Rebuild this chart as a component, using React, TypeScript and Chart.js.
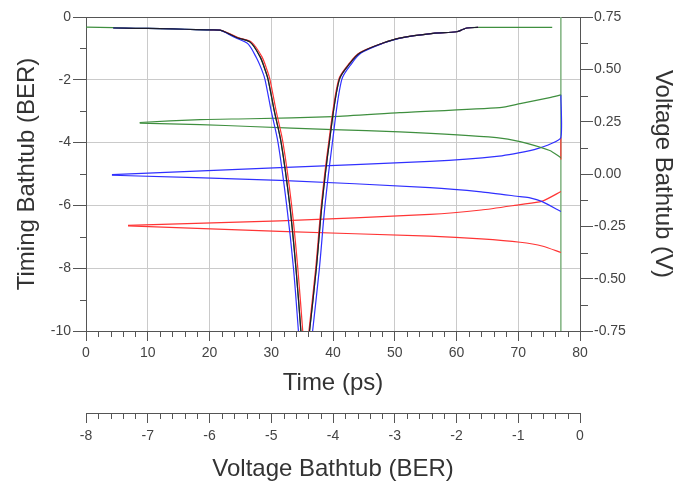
import React, { useEffect, useRef } from 'react';
import { Chart, registerables } from 'chart.js';

Chart.register(...registerables);

// ---------- Timing bathtub (time in ps, log10 BER) ----------
const blackLeftT = [4.4, 8, 12, 16, 19.6, 21.7, 23.0, 24.5, 26.6, 28.2, 29.0, 29.5, 30.5, 31.6, 33.0, 34.0, 34.8];
const blackLeftB = [-0.35, -0.36, -0.37, -0.39, -0.41, -0.42, -0.52, -0.66, -0.8, -1.27, -1.68, -2.0, -3.0, -4.0, -6.0, -8.0, -10];
const blackRightT = [36.2, 37.3, 38.2, 39.4, 41.0, 42.8, 44.4, 48.1, 50.8, 56.2, 60.0, 61.0, 61.7, 63.5];
const blackRightB = [-10, -8, -6, -4, -2.0, -1.46, -1.14, -0.83, -0.67, -0.52, -0.47, -0.4, -0.35, -0.33];

const redLeftT = [20.0, 21.7, 23.1, 24.7, 26.8, 28.5, 29.3, 29.8, 30.8, 31.9, 33.3, 34.3, 35.1];
const redLeftB = [-0.41, -0.42, -0.52, -0.66, -0.8, -1.27, -1.68, -2.0, -3.0, -4.0, -6.0, -8.0, -10];
const redRightT = [36.1, 37.2, 38.1, 39.3, 40.9, 42.7, 44.3, 48.1, 50.8, 56.2, 60.0, 61.0, 61.7, 63.5];
const redRightB = [-10, -8, -6, -4, -2.0, -1.46, -1.14, -0.83, -0.67, -0.52, -0.47, -0.4, -0.35, -0.33];

const blueLeftT = [4.4, 8, 12, 16, 19.6, 21.7, 22.8, 24.2, 26.2, 27.6, 28.5, 29.0, 30.0, 31.1, 32.5, 33.6, 34.4];
const blueLeftB = [-0.35, -0.36, -0.37, -0.39, -0.41, -0.42, -0.52, -0.66, -0.85, -1.3, -1.7, -2.0, -3.0, -4.0, -6.0, -8.0, -10];
const blueRightT = [36.7, 37.8, 38.7, 39.9, 41.4, 43.1, 44.6, 48.2, 50.9, 56.2, 60.0, 61.0, 61.7, 63.5];
const blueRightB = [-10, -8, -6, -4, -2.0, -1.46, -1.14, -0.83, -0.67, -0.52, -0.47, -0.4, -0.35, -0.33];

const greenLeftT = [0, 4.4, 8, 12, 16, 19.6, 21.7, 23.0, 24.5, 26.6, 28.2, 29.0, 29.5, 30.5, 31.6, 33.0, 34.0, 34.8];
const greenLeftB = [-0.32, -0.34, -0.36, -0.37, -0.39, -0.41, -0.42, -0.52, -0.66, -0.8, -1.27, -1.68, -2.0, -3.0, -4.0, -6.0, -8.0, -10];
const greenRightT = [36.2, 37.3, 38.2, 39.4, 41.0, 42.8, 44.4, 48.1, 50.8, 56.2, 60.0, 61.0, 61.7, 63.5, 75.5];
const greenRightB = [-10, -8, -6, -4, -2.0, -1.46, -1.14, -0.83, -0.67, -0.52, -0.47, -0.4, -0.35, -0.33, -0.33];

const markerT = [76.9, 76.9];
const markerB = [0, -10];

// ---------- Voltage bathtub (log10 BER, volts) ----------
const greenUpperBer = [-7.13, -6.15, -5.34, -4.0, -2.92, -1.3, -0.97, -0.49, -0.31];
const greenUpperV = [0.246, 0.26, 0.264, 0.274, 0.293, 0.317, 0.336, 0.365, 0.378];
const greenLowerBer = [-7.13, -6.15, -5.34, -4.0, -2.92, -1.35, -0.97, -0.49, -0.31];
const greenLowerV = [0.243, 0.236, 0.227, 0.212, 0.201, 0.174, 0.155, 0.112, 0.078];

const blueUpperBer = [-7.58, -4.86, -2.43, -1.35, -0.81, -0.65, -0.49, -0.31, -0.31];
const blueUpperV = [-0.003, 0.03, 0.06, 0.084, 0.112, 0.125, 0.142, 0.174, 0.378];
const blueLowerBer = [-7.58, -4.86, -2.43, -1.6, -0.97, -0.81, -0.62, -0.31];
const blueLowerV = [-0.006, -0.03, -0.065, -0.085, -0.108, -0.114, -0.131, -0.179];

const redUpperBer = [-7.32, -4.86, -2.43, -1.6, -0.97, -0.62, -0.31];
const redUpperV = [-0.245, -0.224, -0.193, -0.172, -0.146, -0.131, -0.084];
const redLowerBer = [-7.32, -4.86, -2.43, -1.6, -0.97, -0.6, -0.31];
const redLowerV = [-0.248, -0.274, -0.297, -0.31, -0.326, -0.345, -0.375];
const redTailBer = [-0.31, -0.31];
const redTailV = [0.174, 0.069];

// ---------- Axis labels ----------
const timeAxisTitle = 'Time (ps)';
const timingAxisTitle = 'Timing Bathtub (BER)';
const voltAxisTitle = 'Voltage Bathtub (V)';
const voltBerAxisTitle = 'Voltage Bathtub (BER)';

const GREEN = '#3f8f3f';
const BLUE = '#3030ff';
const RED = '#ff3535';
const BLACK = '#1c1c2c';
const AXIS = '#555555';
const GRID = '#cacaca';
const FONT = "'Liberation Sans', Arial, sans-serif";

function pts(xs: number[], ys: number[]) {
  return xs.map((x, i) => ({ x, y: ys[i] }));
}

function timing(xs: number[], ys: number[], color: string, width = 1.2) {
  return {
    data: pts(xs, ys),
    xAxisID: 'x',
    yAxisID: 'y',
    borderColor: color,
    borderWidth: width,
    showLine: true,
    pointRadius: 0,
    fill: false,
    tension: 0.3,
  };
}

function volt(xs: number[], ys: number[], color: string) {
  return {
    data: pts(xs, ys),
    xAxisID: 'xv',
    yAxisID: 'yv',
    borderColor: color,
    borderWidth: 1.2,
    showLine: true,
    pointRadius: 0,
    fill: false,
    tension: 0.2,
  };
}

const minorTicks = {
  id: 'minorTicks',
  afterDraw(chart: any) {
    const { ctx } = chart;
    const { x, y, yv, xv } = chart.scales;
    const a = (p: number) => Math.round(p) + 0.5;
    ctx.save();
    ctx.strokeStyle = AXIS;
    ctx.lineWidth = 1;
    ctx.beginPath();
    for (let v = y.min + 1; v < y.max; v += 2) {
      const p = a(y.getPixelForValue(v));
      ctx.moveTo(y.right - 6, p);
      ctx.lineTo(y.right, p);
    }
    for (let v = x.min + 2; v < x.max; v += 2) {
      if (v % 10 === 0) continue;
      const p = a(x.getPixelForValue(v));
      ctx.moveTo(p, x.top);
      ctx.lineTo(p, x.top + 6);
    }
    for (let k = -5; k <= 5; k += 2) {
      const p = a(yv.getPixelForValue(k * 0.125));
      ctx.moveTo(yv.left, p);
      ctx.lineTo(yv.left + 8, p);
    }
    for (let k = -40; k < 0; k++) {
      if (k % 5 === 0) continue;
      const p = a(xv.getPixelForValue(k / 5));
      ctx.moveTo(p, xv.top);
      ctx.lineTo(p, xv.top + 6);
    }
    ctx.stroke();
    ctx.restore();
  },
};

export default function App() {
  const ref = useRef<HTMLCanvasElement>(null);

  useEffect(() => {
    if (!ref.current) return;
    Chart.defaults.font.family = FONT;
    const chart = new Chart(ref.current, {
      type: 'scatter',
      data: {
        datasets: [
          timing(blackLeftT, blackLeftB, BLACK),
          timing(blackRightT, blackRightB, BLACK),
          timing(blueLeftT, blueLeftB, BLUE),
          timing(blueRightT, blueRightB, BLUE),
          timing(redLeftT, redLeftB, RED),
          timing(redRightT, redRightB, RED),
          timing(greenLeftT, greenLeftB, GREEN),
          timing(greenRightT, greenRightB, GREEN),
          volt(greenUpperBer, greenUpperV, GREEN),
          volt(greenLowerBer, greenLowerV, GREEN),
          volt(blueUpperBer, blueUpperV, BLUE),
          volt(blueLowerBer, blueLowerV, BLUE),
          volt(redUpperBer, redUpperV, RED),
          volt(redLowerBer, redLowerV, RED),
          volt(redTailBer, redTailV, RED),
          timing(markerT, markerB, '#7fb27f', 1.5),
        ] as any,
      },
      plugins: [minorTicks],
      options: {
        animation: false,
        responsive: false,
        maintainAspectRatio: false,
        layout: { padding: { top: 17, left: 0, right: 0, bottom: 0 } },
        plugins: { legend: { display: false }, tooltip: { enabled: false } },
        scales: {
          x: {
            type: 'linear',
            position: 'bottom',
            weight: 0,
            min: 0,
            max: 80,
            ticks: { stepSize: 10, color: '#444', font: { size: 14 }, padding: 4 },
            grid: {
              color: (c: any) => (c.tick && (c.tick.value === 0 || c.tick.value === 80) ? 'rgba(0,0,0,0)' : GRID),
              tickLength: 10,
              tickColor: AXIS,
            },
            border: { color: AXIS, width: 1 },
            title: { display: true, text: timeAxisTitle, color: '#333', font: { size: 24 }, padding: { top: 0, bottom: 15 } },
            afterFit: (s: any) => { s.height = 82; },
          },
          xv: {
            type: 'linear',
            position: 'bottom',
            weight: 1,
            min: -8,
            max: 0,
            ticks: { stepSize: 1, color: '#444', font: { size: 14 }, padding: 5 },
            grid: { drawOnChartArea: false, tickLength: 10, tickColor: AXIS },
            border: { color: AXIS, width: 1 },
            title: { display: true, text: voltBerAxisTitle, color: '#333', font: { size: 24 }, padding: { top: 0, bottom: 4 } },
            afterFit: (s: any) => { s.height = 75; },
          },
          y: {
            type: 'linear',
            position: 'left',
            min: -10,
            max: 0,
            ticks: { stepSize: 2, color: '#444', font: { size: 14 }, padding: 2 },
            grid: {
              color: (c: any) => (c.tick && c.tick.value === 0 ? AXIS : c.tick && c.tick.value === -10 ? 'rgba(0,0,0,0)' : GRID),
              tickLength: 13,
              tickColor: AXIS,
            },
            border: { color: AXIS, width: 1 },
            title: { display: true, text: timingAxisTitle, color: '#333', font: { size: 24 }, padding: { top: 13, bottom: 0 } },
            afterFit: (s: any) => { s.width = 86; },
          },
          yv: {
            type: 'linear',
            position: 'right',
            min: -0.75,
            max: 0.75,
            ticks: {
              stepSize: 0.25,
              color: '#444',
              font: { size: 14 },
              padding: 1,
              callback: (v: any) => Number(v).toFixed(2),
            },
            grid: { drawOnChartArea: false, tickLength: 13, tickColor: AXIS },
            border: { color: AXIS, width: 1 },
            title: { display: true, text: voltAxisTitle, color: '#333', font: { size: 24 }, padding: { top: 5, bottom: 0 } },
            afterFit: (s: any) => { s.width = 102; },
          },
        },
      } as any,
    });
    return () => chart.destroy();
  }, []);

  return (
    <div style={{ position: 'fixed', left: 0, top: 0, width: 682, height: 488, background: '#fff' }}>
      <canvas ref={ref} width={682} height={488} style={{ display: 'block' }} />
    </div>
  );
}
